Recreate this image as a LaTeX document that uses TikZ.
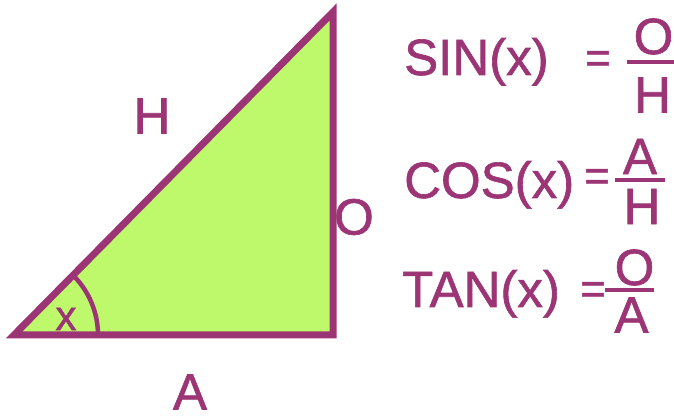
\documentclass[tikz,border=0pt]{standalone}
\usepackage{fontspec}
\setmainfont{Liberation Sans}
\newfontfamily\trifont[FakeBold=1.2]{Liberation Sans}
\definecolor{tripurple}{HTML}{9B3575}
\definecolor{trigreen}{HTML}{BDF96B}
\begin{document}
\begin{tikzpicture}[x=1pt,y=1pt,
  lbl/.style={text=tripurple,inner sep=0pt,font=\trifont\fontsize{51}{51}\selectfont},
  small/.style={text=tripurple,inner sep=0pt,font=\trifont\fontsize{42}{42}\selectfont},
  eqs/.style={text=tripurple,inner sep=0pt,font=\trifont\fontsize{44}{44}\selectfont},
  fbar/.style={draw=tripurple,line width=3.5pt}]
\useasboundingbox (0,0) rectangle (674,417);
% triangle
\coordinate (B) at (14,82);
\coordinate (C) at (333,82);
\coordinate (T) at (333,405);
\filldraw[fill=trigreen,draw=tripurple,line width=7pt,line join=miter] (B) -- (C) -- (T) -- cycle;
\draw[tripurple,line width=4.5pt] ([shift={(84,0)}]B) arc[start angle=0,end angle=45.4,radius=84];
% side labels
\node[lbl] (hyp) at (152,301) {H};
\node[lbl] (opp) at (354,200) {O};
\node[lbl] (adj) at (190,25) {A};
\node[small] (ang) at (66,98) {x};
% SIN
\node[lbl,anchor=base west] (sin) at (404,342) {SIN(x)};
\node[eqs] (eq1) at (598,355) {=};
\coordinate (b1l) at (627,355); \coordinate (b1r) at (676,355);
\draw[fbar] (b1l) -- (b1r);
\node[lbl] (n1) at (653.5,380.5) {O};
\node[lbl] (d1) at (652.5,322) {H};
% COS
\node[lbl,anchor=base west] (cos) at (404,219) {COS(x)};
\node[eqs] (eq2) at (597,237) {=};
\coordinate (b2l) at (615,237); \coordinate (b2r) at (665,237);
\draw[fbar] (b2l) -- (b2r);
\node[lbl] (n2) at (640,260.5) {A};
\node[lbl] (d2) at (642,210.5) {H};
% TAN
\node[lbl,anchor=base west] (tan) at (402,110) {TAN(x)};
\node[eqs] (eq3) at (593,124) {=};
\coordinate (b3l) at (605,127); \coordinate (b3r) at (654,127);
\draw[fbar] (b3l) -- (b3r);
\node[lbl] (n3) at (634.5,149.5) {O};
\node[lbl] (d3) at (631.5,102) {A};
\end{tikzpicture}
\end{document}
